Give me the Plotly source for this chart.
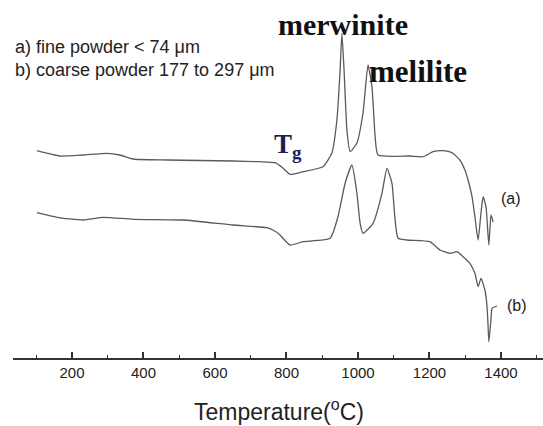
import plotly.graph_objects as go

# ---- data (temperature in °C, DTA signal in arbitrary units) ----
temp_a = [102, 166, 231, 298, 334, 371, 466, 650, 726, 768, 790, 810, 846, 902, 927, 941, 950, 955,
          961, 969, 978, 997, 1014, 1028, 1039, 1048, 1056, 1145, 1182, 1210, 1238, 1263, 1285, 1299,
          1308, 1319, 1327, 1336, 1344, 1350, 1358, 1366, 1372, 1378]
sig_a = [207.3, 202, 203, 204.7, 203, 199, 198, 197, 196.3, 195.3, 190, 183.7, 186.3, 191.3, 205, 238,
         288, 324.7, 288, 228, 206.3, 215, 245, 293, 271.3, 221.3, 203, 202, 201.3, 206.3, 207.3, 205.3,
         198, 188, 178, 161.3, 141.3, 118, 145, 161.3, 151.3, 113, 143, 136]

temp_b = [102, 158, 231, 287, 371, 511, 650, 745, 762, 782, 790, 810, 846, 922, 944, 964, 983, 997,
          1006, 1014, 1042, 1067, 1081, 1095, 1103, 1112, 1137, 1201, 1229, 1257, 1277, 1294, 1313,
          1327, 1336, 1344, 1355, 1361, 1364, 1366, 1372, 1375, 1389]
sig_b = [145.3, 140.7, 138, 140.7, 138.7, 138, 133, 130.3, 128, 123, 119.7, 113, 116.3, 119.7, 141.3,
         174.7, 193, 164.7, 134.7, 124.7, 134.7, 164.7, 189.7, 174.7, 141.3, 119.7, 118, 116.3, 108,
         104.7, 106.3, 101.3, 94.7, 84.7, 71.3, 79.7, 68, 51.3, 31.3, 16.3, 38, 49.7, 52]

tick_vals = [200, 400, 600, 800, 1000, 1200, 1400]
tick_text = ["200", "400", "600", "800", "1000", "1200", "1400"]

W, H = 543, 426
ML, MB = 13, 68
PW, PH = W - ML, H - MB


def px(x):
    return (x - ML) / PW


def py(y):
    return (PH - y) / PH


fig = go.Figure()
line_style = dict(color="#5a5a5a", width=1.3, shape="spline", smoothing=0.5)
fig.add_trace(go.Scatter(x=temp_a, y=sig_a, mode="lines", line=line_style, showlegend=False))
fig.add_trace(go.Scatter(x=temp_b, y=sig_b, mode="lines", line=line_style, showlegend=False))

fig.update_layout(
    width=W, height=H,
    margin=dict(l=ML, r=0, t=0, b=MB),
    paper_bgcolor="white", plot_bgcolor="white",
    xaxis=dict(
        range=[35, 1517.5], showgrid=False, zeroline=False,
        showline=True, linecolor="#333333", linewidth=1.5,
        ticks="inside", ticklen=6, tickwidth=1.5, tickcolor="#333333",
        tickvals=tick_vals, ticktext=tick_text,
        tickfont=dict(family="Liberation Sans", size=15, color="#222222"),
        minor=dict(dtick=100, tick0=0, ticks="inside", ticklen=3, tickwidth=1.2, tickcolor="#333333"),
    ),
    yaxis=dict(range=[0, PH], visible=False),
)

sans = "Liberation Sans"
serif = "Liberation Serif"
anns = [
    dict(text="a) fine powder &lt; 74 μm", x=px(13), y=py(47), xanchor="left", yanchor="middle",
         font=dict(family=sans, size=18, color="#222222")),
    dict(text="b) coarse powder 177 to 297 μm", x=px(13), y=py(70), xanchor="left", yanchor="middle",
         font=dict(family=sans, size=18, color="#222222")),
    dict(text="<b>merwinite</b>", x=px(343), y=py(24), xanchor="center", yanchor="middle",
         font=dict(family=serif, size=30, color="#111111")),
    dict(text="<b>melilite</b>", x=px(418), y=py(71), xanchor="center", yanchor="middle",
         font=dict(family=serif, size=31, color="#111111")),
    dict(text="<b>T<sub>g</sub></b>", x=px(288), y=py(146), xanchor="center", yanchor="middle",
         font=dict(family=serif, size=27, color="#1c1c5a")),
    dict(text="(a)", x=px(511), y=py(198), xanchor="center", yanchor="middle",
         font=dict(family=sans, size=16, color="#222222")),
    dict(text="(b)", x=px(517), y=py(305), xanchor="center", yanchor="middle",
         font=dict(family=sans, size=16, color="#222222")),
    dict(text="Temperature(<sup>o</sup>C)", x=px(279), y=py(427), xanchor="center", yanchor="bottom",
         font=dict(family=sans, size=23, color="#222222")),
]
for a in anns:
    a.update(xref="paper", yref="paper", showarrow=False)
fig.update_layout(annotations=anns)

fig.write_html("out.html")
